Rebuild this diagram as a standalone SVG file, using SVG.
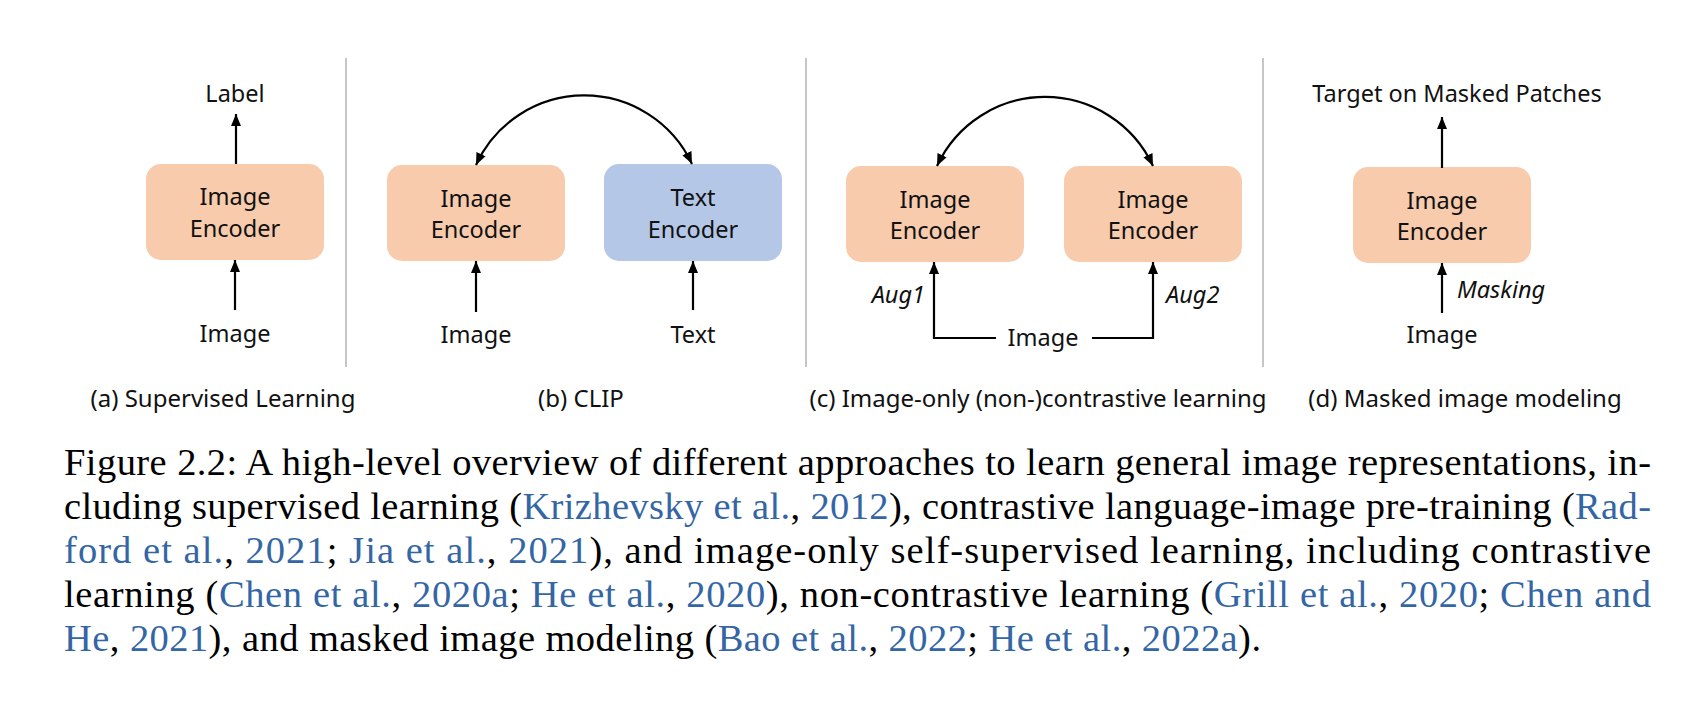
<svg xmlns="http://www.w3.org/2000/svg" width="1696" height="712" viewBox="0 0 1696 712">
<style>
  .bg{fill:#ffffff}
  .enc{fill:#F8CBAD}
  .txtenc{fill:#B4C7E7}
  .lbl{font-family:"Noto Sans","Open Sans","DejaVu Sans",sans-serif;font-size:23.5px;fill:#111111}
  .it{font-style:italic}
  .sub{font-family:"Noto Sans","Open Sans","DejaVu Sans",sans-serif;font-size:24px;fill:#111111}
  .mid{text-anchor:middle}
  .sep{stroke:#c6c6c6;stroke-width:2;fill:none}
  .ln{stroke:#000000;stroke-width:2.2;fill:none}
  .cap{font-family:"Liberation Serif","Times New Roman",serif;font-size:38.5px;fill:#000000}
  .lk{fill:#3466A5}
</style>
<defs>
  <marker id="ah" viewBox="0 0 12 12" refX="12" refY="6" markerWidth="12" markerHeight="12" markerUnits="userSpaceOnUse" orient="auto-start-reverse">
    <path d="M0,1 L12,6 L0,11 Z" fill="#000000"/>
  </marker>
</defs>
<rect class="bg" x="0" y="0" width="1696" height="712"/>

<g id="separators">
  <line class="sep" x1="346" y1="58" x2="346" y2="367"/>
  <line class="sep" x1="806" y1="58" x2="806" y2="367"/>
  <line class="sep" x1="1263" y1="58" x2="1263" y2="367"/>
</g>

<!-- Panel (a) -->
<g id="a-label"><text class="lbl mid" x="235" y="102">Label</text></g>
<g id="a-encoder">
  <rect class="enc" x="146" y="164" width="178" height="96" rx="15"/>
  <text class="lbl mid" x="235" y="205">Image</text>
  <text class="lbl mid" x="235" y="237">Encoder</text>
</g>
<g id="a-image"><text class="lbl mid" x="235" y="342">Image</text></g>
<g id="a-caption"><text class="sub mid" x="223" y="407">(a) Supervised Learning</text></g>

<!-- Panel (b) -->
<g id="b-image-encoder">
  <rect class="enc" x="387" y="165" width="178" height="96" rx="15"/>
  <text class="lbl mid" x="476" y="207">Image</text>
  <text class="lbl mid" x="476" y="238">Encoder</text>
</g>
<g id="b-text-encoder">
  <rect class="txtenc" x="604" y="164" width="178" height="97" rx="15"/>
  <text class="lbl mid" x="693" y="206">Text</text>
  <text class="lbl mid" x="693" y="238">Encoder</text>
</g>
<g id="b-image"><text class="lbl mid" x="476" y="343">Image</text></g>
<g id="b-text"><text class="lbl mid" x="693" y="343">Text</text></g>
<g id="b-caption"><text class="sub mid" x="581" y="407">(b) CLIP</text></g>

<!-- Panel (c) -->
<g id="c-encoder-1">
  <rect class="enc" x="846" y="166" width="178" height="96" rx="15"/>
  <text class="lbl mid" x="935" y="208">Image</text>
  <text class="lbl mid" x="935" y="239">Encoder</text>
</g>
<g id="c-encoder-2">
  <rect class="enc" x="1064" y="166" width="178" height="96" rx="15"/>
  <text class="lbl mid" x="1153" y="208">Image</text>
  <text class="lbl mid" x="1153" y="239">Encoder</text>
</g>
<g id="c-image"><text class="lbl mid" x="1043" y="346">Image</text></g>
<g id="c-aug1"><text class="lbl it" x="925" y="303" text-anchor="end">Aug1</text></g>
<g id="c-aug2"><text class="lbl it" x="1166" y="303">Aug2</text></g>
<g id="c-caption"><text class="sub mid" x="1038" y="407">(c) Image-only (non-)contrastive learning</text></g>

<!-- Panel (d) -->
<g id="d-target"><text class="lbl mid" x="1457" y="102">Target on Masked Patches</text></g>
<g id="d-encoder">
  <rect class="enc" x="1353" y="167" width="178" height="96" rx="15"/>
  <text class="lbl mid" x="1442" y="209">Image</text>
  <text class="lbl mid" x="1442" y="240">Encoder</text>
</g>
<g id="d-masking"><text class="lbl it" x="1457" y="298">Masking</text></g>
<g id="d-image"><text class="lbl mid" x="1442" y="343">Image</text></g>
<g id="d-caption"><text class="sub mid" x="1465" y="407">(d) Masked image modeling</text></g>

<g id="connectors">
  <line class="ln" x1="236" y1="164" x2="236" y2="114" marker-end="url(#ah)"/>
  <line class="ln" x1="235" y1="310" x2="235" y2="260" marker-end="url(#ah)"/>
  <path class="ln" d="M476,165 A119,119 0 0 1 692,164" marker-start="url(#ah)" marker-end="url(#ah)"/>
  <line class="ln" x1="476" y1="312" x2="476" y2="261" marker-end="url(#ah)"/>
  <line class="ln" x1="693" y1="310" x2="693" y2="261" marker-end="url(#ah)"/>
  <path class="ln" d="M937,166 A119,119 0 0 1 1153,166" marker-start="url(#ah)" marker-end="url(#ah)"/>
  <polyline class="ln" points="996,338 934,338 934,262" marker-end="url(#ah)"/>
  <polyline class="ln" points="1092,338 1153,338 1153,262" marker-end="url(#ah)"/>
  <line class="ln" x1="1442" y1="168" x2="1442" y2="117" marker-end="url(#ah)"/>
  <line class="ln" x1="1442" y1="313" x2="1442" y2="263" marker-end="url(#ah)"/>
</g>

<g id="figure-caption">
  <text class="cap" x="64" y="475" textLength="1587" lengthAdjust="spacing">Figure 2.2: A high-level overview of different approaches to learn general image representations, in-</text>
  <text class="cap" x="64" y="519" textLength="1587" lengthAdjust="spacing">cluding supervised learning (<tspan class="lk">Krizhevsky et al.</tspan>, <tspan class="lk">2012</tspan>), contrastive language-image pre-training (<tspan class="lk">Rad-</tspan></text>
  <text class="cap" x="64" y="563" textLength="1587" lengthAdjust="spacing"><tspan class="lk">ford et al.</tspan>, <tspan class="lk">2021</tspan>; <tspan class="lk">Jia et al.</tspan>, <tspan class="lk">2021</tspan>), and image-only self-supervised learning, including contrastive</text>
  <text class="cap" x="64" y="607" textLength="1587" lengthAdjust="spacing">learning (<tspan class="lk">Chen et al.</tspan>, <tspan class="lk">2020a</tspan>; <tspan class="lk">He et al.</tspan>, <tspan class="lk">2020</tspan>), non-contrastive learning (<tspan class="lk">Grill et al.</tspan>, <tspan class="lk">2020</tspan>; <tspan class="lk">Chen and</tspan></text>
  <text class="cap" x="64" y="651" textLength="1197" lengthAdjust="spacing"><tspan class="lk">He</tspan>, <tspan class="lk">2021</tspan>), and masked image modeling (<tspan class="lk">Bao et al.</tspan>, <tspan class="lk">2022</tspan>; <tspan class="lk">He et al.</tspan>, <tspan class="lk">2022a</tspan>).</text>
</g>
</svg>
